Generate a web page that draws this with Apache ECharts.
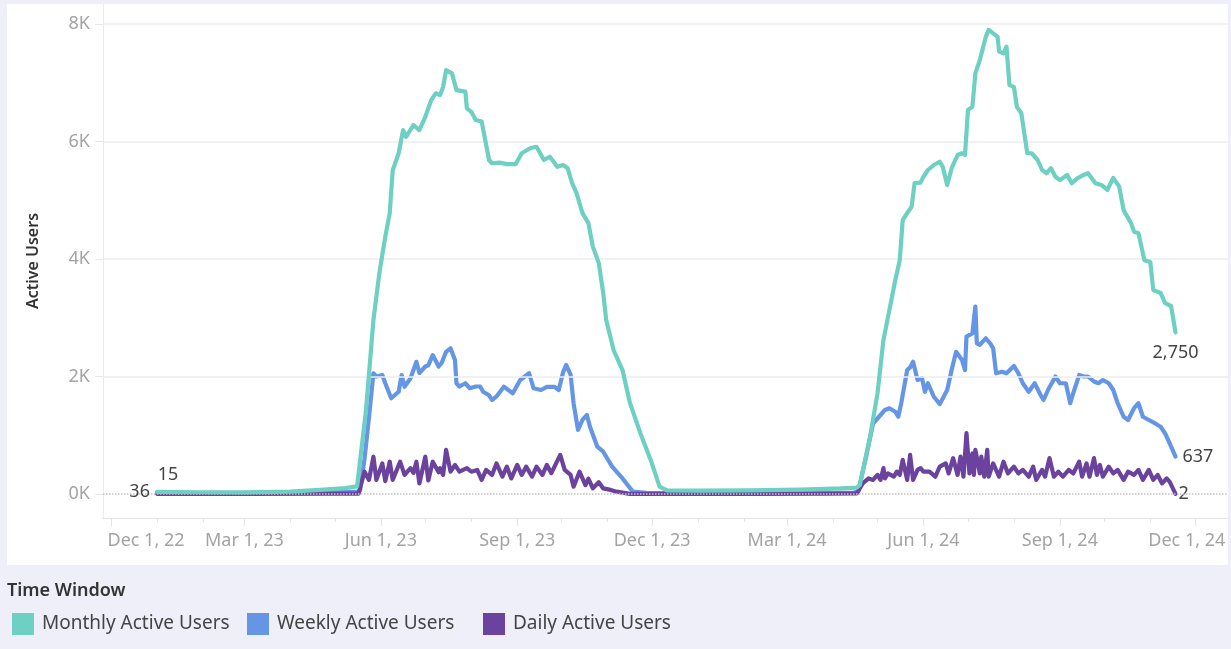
<!DOCTYPE html>
<html>
<head>
<meta charset="utf-8">
<script src="https://cdn.jsdelivr.net/npm/echarts@6/dist/echarts.min.js"></script>
<style>
  html, body { margin: 0; padding: 0; width: 1231px; height: 649px; overflow: hidden; background: #efeff9; }
  #panel { position: absolute; left: 7px; top: 4px; width: 1221px; height: 561px; background: #ffffff; }
  #chart { position: absolute; left: 0; top: 0; width: 1231px; height: 649px; }
</style>
</head>
<body>
<div id="panel"></div>
<div id="chart"></div>
<script>
// ---------------- DATA ----------------
// Each point: [days since 2023-01-01, active users]
const seriesNames = ['Monthly Active Users', 'Weekly Active Users', 'Daily Active Users'];

const monthlyPoints = [
  [0,36],[29,30],[58,28],[90,40],[110,70],[127,100],[135,130],[141,1430],[146,2960],[150,3760],
  [154,4380],[157,4780],[159,5510],[163,5800],[166,6195],[168,6080],[173,6280],[177,6195],[181,6420],[185,6705],
  [188,6820],[191,6790],[193,6930],[195,7215],[199,7160],[202,6875],[208,6850],[209,6565],[212,6505],[215,6365],
  [219,6340],[221,6080],[224,5685],[226,5630],[231,5640],[236,5615],[242,5615],[246,5800],[252,5890],[256,5910],
  [261,5685],[265,5740],[270,5570],[274,5600],[277,5545],[280,5290],[283,5120],[287,4780],[291,4610],[294,4210],
  [298,3930],[301,3420],[303,2960],[308,2450],[314,2110],[319,1550],[326,1040],[333,580],[339,125],[344,60],
  [366,58],[400,62],[434,75],[461,95],[472,110],[474,150],[481,975],[486,1715],[490,2620],[494,3130],
  [498,3640],[501,3980],[503,4660],[506,4780],[509,4890],[511,5290],[515,5300],[517,5400],[520,5515],[524,5600],
  [528,5655],[530,5570],[533,5260],[536,5545],[540,5770],[543,5800],[545,5770],[547,6535],[550,6590],[552,7160],
  [555,7385],[559,7780],[561,7900],[564,7840],[567,7780],[568,7530],[571,7500],[573,7615],[575,6960],[578,6930],
  [580,6590],[583,6480],[587,5800],[590,5800],[594,5685],[597,5515],[600,5460],[603,5545],[606,5400],[609,5345],
  [614,5430],[617,5290],[621,5375],[625,5430],[628,5460],[633,5290],[637,5260],[641,5175],[645,5380],[649,5235],
  [652,4830],[657,4610],[659,4465],[662,4440],[666,3980],[670,3950],[672,3470],[677,3420],[680,3250],[684,3200],
  [687,2750]
];

const weeklyPoints = [
  [0,15],[30,12],[60,14],[90,20],[120,30],[135,40],[137,60],[140,600],[143,1300],[146,2055],
  [148,2000],[152,2025],[154,1885],[158,1630],[163,1740],[165,2025],[167,1825],[171,1970],[175,2250],[177,2060],
  [181,2170],[183,2190],[186,2365],[190,2170],[192,2230],[195,2420],[198,2480],[201,2280],[202,1885],[204,1830],
  [208,1885],[211,1800],[215,1830],[218,1830],[220,1740],[224,1680],[226,1600],[229,1660],[234,1825],[237,1770],
  [240,1715],[245,1940],[251,2055],[254,1800],[259,1770],[263,1825],[268,1825],[271,1770],[274,2080],[276,2195],
  [279,2030],[281,1545],[284,1090],[287,1260],[290,1345],[292,1150],[297,805],[301,720],[307,465],[314,265],
  [321,40],[330,20],[380,15],[430,18],[470,25],[473,40],[478,600],[483,1200],[487,1315],[491,1430],
  [494,1460],[498,1400],[500,1315],[502,1545],[506,2110],[508,2155],[510,2250],[513,1940],[516,1970],[518,1740],
  [520,1885],[524,1655],[528,1530],[533,1770],[536,2110],[539,2420],[543,2280],[545,2110],[546,2680],[550,2735],
  [552,3190],[553,2565],[555,2540],[559,2650],[562,2565],[564,2480],[566,2055],[570,2080],[573,2055],[578,2180],
  [581,2055],[584,1885],[588,1740],[592,1885],[596,1685],[598,1600],[601,1770],[606,2000],[609,1885],[613,1885],
  [616,1545],[618,1715],[622,2025],[625,2000],[628,2000],[632,1915],[635,1885],[638,1940],[642,1885],[645,1770],
  [648,1545],[652,1315],[655,1260],[659,1460],[662,1545],[665,1315],[669,1260],[673,1205],[677,1145],[680,1030],
  [683,865],[687,637]
];

const dailyPoints = [
  [0,3],[60,2],[120,5],[136,8],[137,10],[140,380],[143,240],[146,635],[148,240],[152,520],
  [154,220],[157,550],[159,240],[164,550],[167,325],[171,440],[173,360],[175,550],[177,180],[181,635],
  [183,230],[186,550],[190,370],[191,440],[193,325],[195,750],[198,380],[201,495],[204,380],[209,440],
  [212,380],[216,410],[219,240],[222,410],[226,325],[229,520],[233,295],[236,465],[239,265],[243,495],
  [246,325],[249,465],[253,295],[256,465],[260,325],[263,495],[266,355],[272,665],[275,410],[279,325],
  [281,125],[285,380],[289,150],[291,260],[294,95],[298,200],[301,95],[306,70],[310,40],[319,2],
  [340,2],[400,3],[450,4],[472,10],[476,180],[480,265],[483,240],[486,325],[488,240],[490,440],
  [491,265],[493,350],[497,295],[499,380],[501,325],[503,580],[506,240],[508,665],[510,240],[513,410],
  [515,440],[517,380],[521,380],[525,295],[528,465],[532,520],[534,350],[537,610],[540,325],[542,635],
  [544,295],[546,1035],[548,350],[550,690],[551,325],[552,750],[555,350],[556,635],[558,295],[560,750],
  [561,295],[564,520],[568,295],[571,550],[574,350],[578,465],[581,350],[584,410],[588,295],[591,465],
  [593,240],[597,410],[599,295],[602,610],[605,295],[608,380],[611,295],[615,410],[618,350],[622,550],
  [624,295],[627,520],[629,295],[632,610],[634,325],[636,495],[638,295],[642,465],[645,350],[648,410],
  [652,240],[655,380],[659,325],[662,410],[665,240],[669,410],[672,240],[675,325],[678,180],[681,265],
  [683,210],[687,2]
];

const quarterTickDates = ['2022-12-01','2023-03-01','2023-06-01','2023-09-01','2023-12-01','2024-03-01','2024-06-01','2024-09-01','2024-12-01'];
const quarterTickLabels = ['Dec 1, 22','Mar 1, 23','Jun 1, 23','Sep 1, 23','Dec 1, 23','Mar 1, 24','Jun 1, 24','Sep 1, 24','Dec 1, 24'];
const monthTickDates = ['2022-12-01','2023-01-01','2023-02-01','2023-03-01','2023-04-01','2023-05-01','2023-06-01','2023-07-01','2023-08-01','2023-09-01','2023-10-01','2023-11-01','2023-12-01','2024-01-01','2024-02-01','2024-03-01','2024-04-01','2024-05-01','2024-06-01','2024-07-01','2024-08-01','2024-09-01','2024-10-01','2024-11-01','2024-12-01'];
const yTickValues = [0, 2000, 4000, 6000, 8000];
const yTickLabels = ['0K', '2K', '4K', '6K', '8K'];
const gridLineValues = [2000, 4000, 6000, 8000];

// ---------------- CHART ----------------
const FONT = 'Noto Sans';
const colors = ['#6dd0c3', '#6596e6', '#6b429e'];
const DAY = 86400000;
const baseUTC = Date.UTC(2023, 0, 1);
function dateToDay(s) { const p = s.split('-').map(Number); return Math.round((Date.UTC(p[0], p[1] - 1, p[2]) - baseUTC) / DAY); }
const quarterDays = quarterTickDates.map(dateToDay);
const monthDays = monthTickDates.map(dateToDay);
const xMin = -36.4;
const xMax = 722.4;

function buildSeries(idx, points, z, firstLabel, lastLabel) {
  const data = points.map((p, i) => {
    const item = { value: [p[0], p[1]] };
    if (i === 0 && firstLabel) item.label = Object.assign({ show: true }, firstLabel);
    if (i === points.length - 1 && lastLabel) item.label = Object.assign({ show: true }, lastLabel);
    return item;
  });
  return {
    name: seriesNames[idx], type: 'line', data: data, z: z,
    showSymbol: true, showAllSymbol: true, symbol: 'circle', symbolSize: 0,
    lineStyle: { width: 4.2, color: colors[idx], join: 'round', cap: 'round' },
    itemStyle: { color: colors[idx] },
    label: { show: false, fontFamily: FONT, fontSize: 18, color: '#444',
      formatter: function (p) { return p.value[1].toLocaleString('en-US'); } },
    emphasis: { disabled: true },
    animation: false
  };
}

const chart = echarts.init(document.getElementById('chart'), null, { renderer: 'canvas' });
const option = {
  animation: false,
  backgroundColor: 'transparent',
  title: {
    text: 'Time Window', left: 7, top: 582, padding: 0,
    textStyle: { fontFamily: FONT, fontSize: 18, fontWeight: 600, color: '#333' }
  },
  legend: seriesNames.map((n, i) => ({
    data: [n], left: [12, 247, 483][i], top: 613, padding: 0,
    itemWidth: 22, itemHeight: 22, icon: 'rect', selectedMode: false,
    textStyle: { fontFamily: FONT, fontSize: 19, color: '#444', padding: [0, 0, 0, 3] }
  })),
  grid: { left: 103, right: 3, top: 4, bottom: 131, containLabel: false },
  xAxis: [
    {
      type: 'value', min: xMin, max: xMax,
      axisLine: { show: true, onZero: false, lineStyle: { color: '#e4e4e4', width: 1 } },
      axisTick: { show: true, customValues: quarterDays, length: 8, lineStyle: { color: '#e4e4e4' } },
      splitLine: { show: false },
      axisLabel: {
        customValues: quarterDays, margin: 14,
        fontFamily: FONT, fontSize: 18, color: '#a3a3a3',
        formatter: function (val) {
          const idx = quarterDays.indexOf(Math.round(val));
          if (idx < 0) return '';
          if (idx === 0) return '{first|' + quarterTickLabels[idx] + '}';
          if (idx === quarterDays.length - 1) return '{last|' + quarterTickLabels[idx] + '}';
          return quarterTickLabels[idx];
        },
        rich: {
          first: { fontFamily: FONT, fontSize: 18, color: '#a3a3a3', padding: [0, 0, 0, 70] },
          last: { fontFamily: FONT, fontSize: 18, color: '#a3a3a3', padding: [0, 16, 0, 0] }
        }
      }
    },
    {
      type: 'value', min: xMin, max: xMax, position: 'bottom',
      axisLine: { show: false, onZero: false },
      axisTick: { show: true, customValues: monthDays, length: 4, lineStyle: { color: '#e4e4e4' } },
      axisLabel: { show: false, customValues: monthDays },
      splitLine: { show: false }
    }
  ],
  yAxis: {
    type: 'value', min: -408.5, max: 8340.4,
    name: 'Active Users', nameLocation: 'middle', nameGap: 62,
    nameTextStyle: { fontFamily: FONT, fontSize: 16, fontWeight: 600, color: '#333' },
    axisLine: { show: true, onZero: false, lineStyle: { color: '#ececec', width: 1 } },
    axisTick: { show: true, customValues: yTickValues, length: 8, lineStyle: { color: '#e8e8e8' } },
    splitLine: { show: false },
    axisLabel: {
      customValues: yTickValues, margin: 13,
      fontFamily: FONT, fontSize: 18, color: '#a3a3a3',
      formatter: function (v) { const i = yTickValues.indexOf(v); return i >= 0 ? yTickLabels[i] : ''; }
    }
  },
  series: [
    {
      name: 'grid', type: 'line', data: [], z: 1, silent: true,
      markLine: {
        silent: true, symbol: 'none', animation: false, label: { show: false },
        data: gridLineValues.map(v => ({ yAxis: v, lineStyle: { color: '#ececec', width: 1.5, type: 'solid' } }))
          .concat([{ yAxis: 0, lineStyle: { color: '#c4c4c4', width: 1.5, type: 'dotted' } }])
      }
    },
    buildSeries(1, weeklyPoints, 3,
      { position: 'top', distance: 9, offset: [11, 0] },
      { position: 'right', distance: 7 }),
    buildSeries(2, dailyPoints, 4, null,
      { position: 'right', distance: 3 }),
    buildSeries(0, monthlyPoints, 5,
      { position: 'left', distance: 7 },
      { position: 'bottom', distance: 11 })
  ]
};
chart.setOption(option);
</script>
</body>
</html>
